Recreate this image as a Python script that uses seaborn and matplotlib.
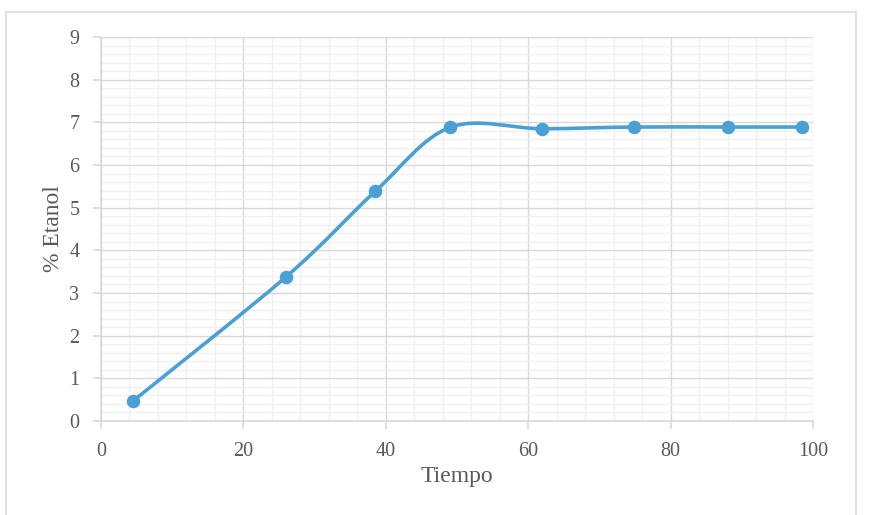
import numpy as np
import pandas as pd
import seaborn as sns
import matplotlib
matplotlib.use("Agg")
import matplotlib.pyplot as plt
from matplotlib.path import Path
from matplotlib.patches import PathPatch
from matplotlib.ticker import MultipleLocator
from matplotlib.lines import Line2D

# data
tiempo = [4.5, 26.0, 38.5, 49.0, 62.0, 74.8, 88.0, 98.5]
etanol = [0.47, 3.38, 5.38, 6.88, 6.85, 6.89, 6.89, 6.89]

data = pd.DataFrame({'Tiempo': tiempo, '% Etanol': etanol})

sns.set_theme(style="white")
plt.rcParams['font.family'] = ['Liberation Serif', 'DejaVu Serif']

text_col = '#595959'
line_col = '#4aa0d5'
grid_major = '#d9d9d9'
grid_minor = '#f0f0f0'

fig = plt.figure(figsize=(8.7, 5.15), dpi=100)
ax = fig.add_axes([101 / 870, 1 - 421 / 515, 712 / 870, 384 / 515])

# smoothed line like the spreadsheet (Catmull-Rom style bezier through the points)
pts = data[['Tiempo', '% Etanol']].to_numpy()
verts = [pts[0]]
codes = [Path.MOVETO]
n = len(pts)
for i in range(n - 1):
    p0 = pts[i - 1] if i > 0 else pts[i]
    p1 = pts[i]
    p2 = pts[i + 1]
    p3 = pts[i + 2] if i + 2 < n else pts[i + 1]
    c1 = p1 + (p2 - p0) / 6
    c2 = p2 - (p3 - p1) / 6
    verts += [c1, c2, p2]
    codes += [Path.CURVE4] * 3
ax.add_patch(PathPatch(Path(verts, codes), facecolor='none', edgecolor=line_col,
                       lw=2.6, zorder=3, capstyle='round'))

sns.scatterplot(data=data, x='Tiempo', y='% Etanol', ax=ax, color=line_col,
                s=95, edgecolor=line_col, linewidth=0, zorder=4, legend=False)

ax.set_xlim(0, 100)
ax.set_ylim(0, 9)
ax.xaxis.set_major_locator(MultipleLocator(20))
ax.xaxis.set_minor_locator(MultipleLocator(4))
ax.yaxis.set_major_locator(MultipleLocator(1))
ax.yaxis.set_minor_locator(MultipleLocator(0.2))

ax.grid(which='minor', color=grid_minor, lw=1.0, zorder=0)
ax.grid(which='major', color=grid_major, lw=1.0, zorder=1)
ax.set_axisbelow(True)

for s in ['top', 'right']:
    ax.spines[s].set_visible(False)
for s in ['left', 'bottom']:
    ax.spines[s].set_color(grid_major)
    ax.spines[s].set_linewidth(1.2)

ax.tick_params(which='major', direction='out', length=6, width=1.2, color=grid_major,
               labelsize=14.5, labelcolor=text_col, left=True, bottom=True)
ax.tick_params(axis='x', which='major', pad=9)
ax.tick_params(axis='y', which='major', pad=9.5)
ax.tick_params(which='minor', length=0)

ax.set_xlabel('Tiempo', fontsize=17, color=text_col, labelpad=4)
ax.set_ylabel('% Etanol', fontsize=17, color=text_col, labelpad=4)

# outer chart frame
fx = lambda px: px / 870
fy = lambda py: 1 - py / 515
frame = dict(color='#e0e0e0', lw=1.5, transform=fig.transFigure)
fig.add_artist(Line2D([fx(6), fx(6)], [fy(12), 0], **frame))
fig.add_artist(Line2D([fx(6), fx(856)], [fy(12), fy(12)], **frame))
fig.add_artist(Line2D([fx(856), fx(856)], [fy(12), 0], **frame))

fig.savefig('out.png', dpi=100)
